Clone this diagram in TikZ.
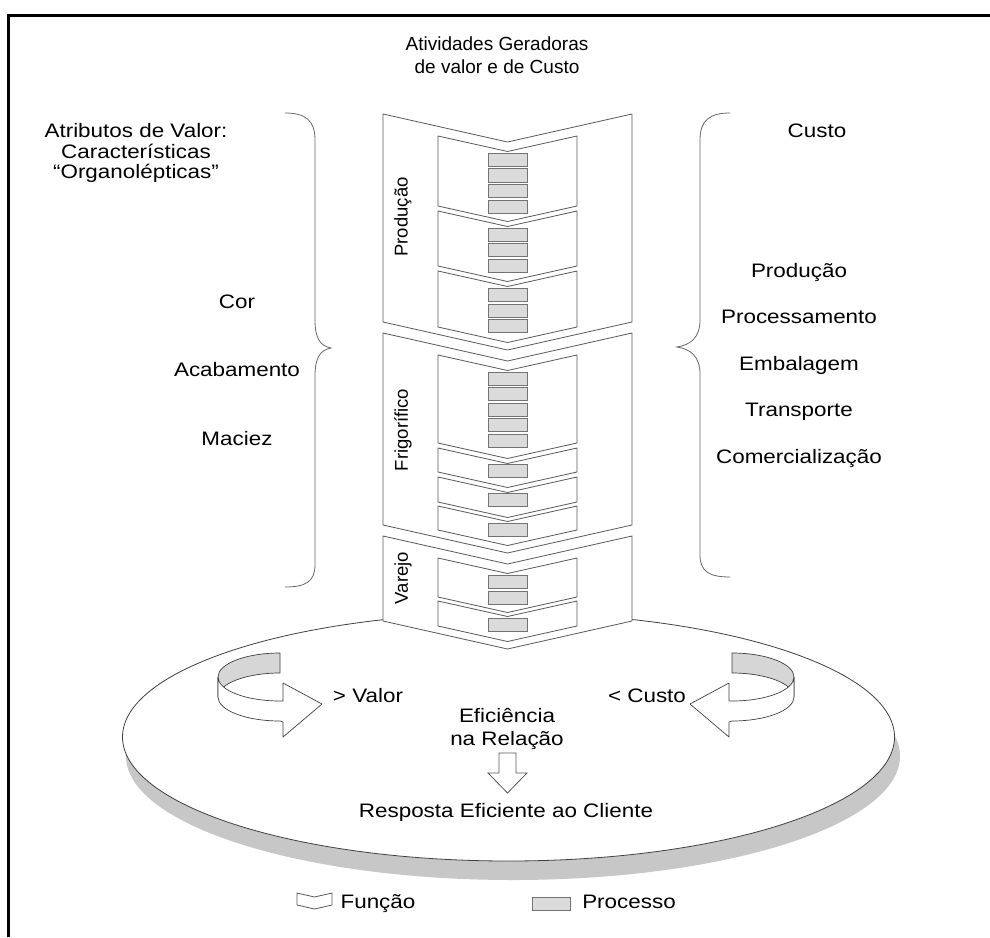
\documentclass[tikz,border=0pt]{standalone}
\usepackage{fontspec}
\setmainfont{Liberation Sans}[FakeStretch=1.15]
\newfontfamily\plainfont{Liberation Sans}
\usepackage{tikz}
\usetikzlibrary{positioning}
\newcommand{\outerfunc}[2]{\draw[func] (383,#1) -- (507.5,#1+28) -- (632,#1) -- (632,#2) -- (507.5,#2+28) -- (383,#2) -- cycle;}
\newcommand{\innerfunc}[2]{\draw[func] (438,#1) -- (507.5,#1+15.5) -- (577,#1) -- (577,#2) -- (507.5,#2+15.5) -- (438,#2) -- cycle;}
\newcommand{\proc}[1]{\draw[proc] (488,#1) rectangle (527,#1+13.3);}
\newcommand{\turnarrow}[2]{%
  \begin{scope}[shift={(#1,697)}, xscale=#2]
    \draw[ribbon, fill=black!16] (0,-44) arc[start angle=-90, end angle=-180, x radius=62, y radius=24]
      -- ++(0,20) arc[start angle=180, end angle=270, x radius=62, y radius=24] -- cycle;
    \draw[ribbon, fill=white] (-62,-20) arc[start angle=180, end angle=90, x radius=62, y radius=24]
      -- (3,4) -- (3,-14) -- (42,7) -- (3,40) -- (3,25) -- (0,24)
      arc[start angle=90, end angle=180, x radius=62, y radius=24] -- cycle;
  \end{scope}}

\begin{document}
\begin{tikzpicture}[
  x=1pt, y=-1pt,
  every node/.style={align=center, inner sep=0pt},
  lbl/.style={font=\fontsize{19.5}{20.5}\selectfont, text height=14pt, text depth=4pt},
  txt/.style={font=\fontsize{19.5}{20.5}\selectfont},
  side/.style={font=\plainfont\fontsize{18.5}{20}\selectfont, rotate=90},
  func/.style={draw=black!65, fill=white, line width=0.8pt},
  proc/.style={draw=black!55, fill=black!14, line width=0.8pt},
  brc/.style={draw=black!60, line width=0.8pt},
  ribbon/.style={draw=black!75, line width=0.7pt, line join=round},
  disk/.style={draw=black!75, fill=white, line width=0.8pt}
]
  \useasboundingbox (0,0) rectangle (990,937);
  \draw[line width=3pt] (990,15) -- (8,15) -- (8,937);

  \node[font=\plainfont\fontsize{19}{23}\selectfont] (title) at (497,55) {Atividades Geradoras\\de valor e de Custo};
  \node[txt] (attr) at (136,153) {Atributos de Valor:\\Características\\“Organolépticas”};
  \node[lbl] (cor) at (237,303) {Cor};
  \node[lbl, below=50.5pt of cor] (acab) {Acabamento};
  \node[lbl, below=50.5pt of acab] (maciez) {Maciez};

  \node[lbl] (custo) at (817,132) {Custo};
  \node[lbl] (cprod) at (799,272) {Produção};
  \node[lbl, below=28.25pt of cprod] (cproc) {Processamento};
  \node[lbl, below=28.25pt of cproc] (cemb) {Embalagem};
  \node[lbl, below=28.25pt of cemb] (ctrans) {Transporte};
  \node[lbl, below=28.25pt of ctrans] (ccom) {Comercialização};

  \draw[brc] (285,113) .. controls (305,113) and (315,120) .. (315,140) -- (315,320)
    .. controls (315,338) and (320,346) .. (331,348) .. controls (320,350) and (315,358) .. (315,376)
    -- (315,565) .. controls (315,582) and (305,587) .. (285,587);
  \draw[brc] (730,113) .. controls (710,113) and (700,120) .. (700,140) -- (700,320)
    .. controls (700,338) and (690,345) .. (677,347) .. controls (690,349) and (700,356) .. (700,374)
    -- (700,555) .. controls (700,572) and (710,577) .. (730,577);

  \fill[black!22] (513,756) ellipse[x radius=387, y radius=124];
  \draw[disk] (508.5,737) ellipse[x radius=386, y radius=124];
  \turnarrow{280}{1}
  \turnarrow{732}{-1}

  \outerfunc{114}{322}
  \outerfunc{333}{525}
  \outerfunc{536}{621}
  \innerfunc{136}{206}
  \innerfunc{211}{266}
  \innerfunc{271}{327}
  \innerfunc{355}{443}
  \innerfunc{448}{472}
  \innerfunc{477}{502}
  \innerfunc{506}{530}
  \innerfunc{558}{597}
  \innerfunc{601}{626}
  \foreach \y in {153,168.7,184.3,200,228,243.5,259,288,304,319} {\proc{\y}}
  \foreach \y in {372,387.5,403,418.5,434,464,493,523} {\proc{\y}}
  \foreach \y in {575,591,618} {\proc{\y}}
  \node[side] (sprod) at (403,217) {Produção};
  \node[side] (sfrig) at (403,430) {Frigorífico};
  \node[side] (svar) at (403,578) {Varejo};

  \node[lbl] (mvalor) at (368,697) {> Valor};
  \node[lbl] (mcusto) at (647,697) {< Custo};
  \node[font=\fontsize{19.5}{23}\selectfont] (efic) at (507,729) {Eficiência\\na Relação};
  \draw[func] (499,753) -- (516,753) -- (516,773) -- (527,773) -- (507.5,793) -- (488,773) -- (499,773) -- cycle;
  \node[lbl] (resp) at (506,812) {Resposta Eficiente ao Cliente};

  \draw[func] (297,893) -- (314.5,897) -- (332,893) -- (332,905) -- (314.5,909) -- (297,905) -- cycle;
  \node[lbl] (lfunc) at (378,903) {Função};
  \draw[proc] (532,897) rectangle (570,910);
  \node[lbl] (lproc) at (629,903) {Processo};
\end{tikzpicture}
\end{document}
